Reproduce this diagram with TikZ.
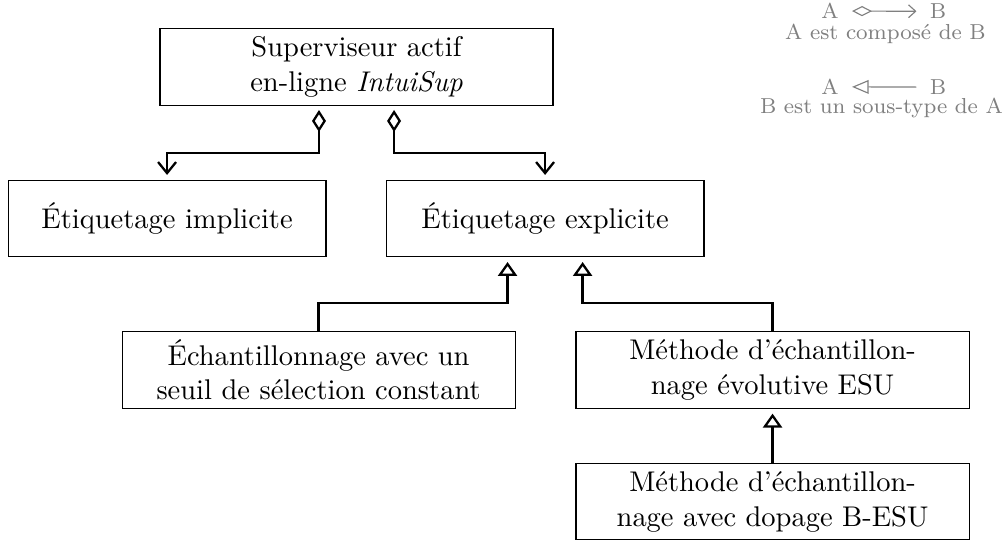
\documentclass[tikz,border=0pt]{standalone}
\usepackage{fontspec}
\usepackage{tikz}
\usetikzlibrary{arrows.meta}

\tikzset{
    box/.style={draw, minimum height=0.937cm, text width=3.72cm, align=center, inner sep=0.1cm},
    widebox/.style={box, text width=4.648cm},
    comp/.style={thick, shorten <=1.5pt, shorten >=1.75pt,
        {Diamond[open, length=7.7pt, width=4.9pt]}-{Straight Barb[length=3.9pt, width=6.3pt]}},
    inh/.style={thick, shorten <=1.75pt, {Triangle[open, length=4.9pt, width=6.7pt]}-},
    legend/.style={black!50, font=\fontsize{7.6}{9}\selectfont, anchor=base, inner sep=0pt},
    legarrow/.style={black!50, shorten <=4.5pt, shorten >=4.5pt},
}

\begin{document}
\begin{tikzpicture}[node distance=1.869cm]
    \useasboundingbox (-4.398,0.826) rectangle (7.987,-5.835);

    \node[widebox] (sup) {Superviseur actif\\en-ligne \textit{IntuiSup}};
    \node[box] (impl) [below of=sup, xshift=-2.337cm] {Étiquetage implicite};
    \node[box] (expl) [right of=impl, node distance=4.663cm] {Étiquetage explicite};
    \node[widebox] (cst) [below of=impl, xshift=1.869cm] {Échantillonnage avec un\\seuil de sélection constant};
    \node[widebox] (esu) [below of=expl, xshift=2.806cm] {Méthode d'échantillon-\\nage évolutive ESU};
    \node[widebox] (besu) [below of=esu, node distance=1.628cm] {Méthode d'échantillon-\\nage avec dopage B-ESU};

    \draw[comp] ([xshift=-0.463cm]sup.south) -- ++(0,-0.58) -| (impl);
    \draw[comp] ([xshift=0.463cm]sup.south) -- ++(0,-0.58) -| (expl);
    \draw[inh] ([xshift=-0.463cm]expl.south) -- ++(0,-0.567) -| (cst);
    \draw[inh] ([xshift=0.463cm]expl.south) -- ++(0,-0.567) -| (esu);
    \draw[inh] (esu) -- (besu);

    % legende
    \node[legend] (la1) at (5.841,0.595) {A};
    \node[legend] (lb1) at (7.173,0.595) {B};
    \node[legend] (lt1) at (6.525,0.340) {A est composé de B};
    \node[legend] (la2) at (5.841,-0.340) {A};
    \node[legend] (lb2) at (7.173,-0.340) {B};
    \node[legend] (lt2) at (6.475,-0.580) {B est un sous-type de A};
    \draw[legarrow, {Diamond[open, length=7pt, width=3.6pt]}-{Straight Barb[length=2.5pt, width=4.5pt]}] (la1) -- (lb1);
    \draw[legarrow, {Triangle[open, length=5.8pt, width=4.8pt]}-] (la2) -- (lb2);
\end{tikzpicture}
\end{document}
